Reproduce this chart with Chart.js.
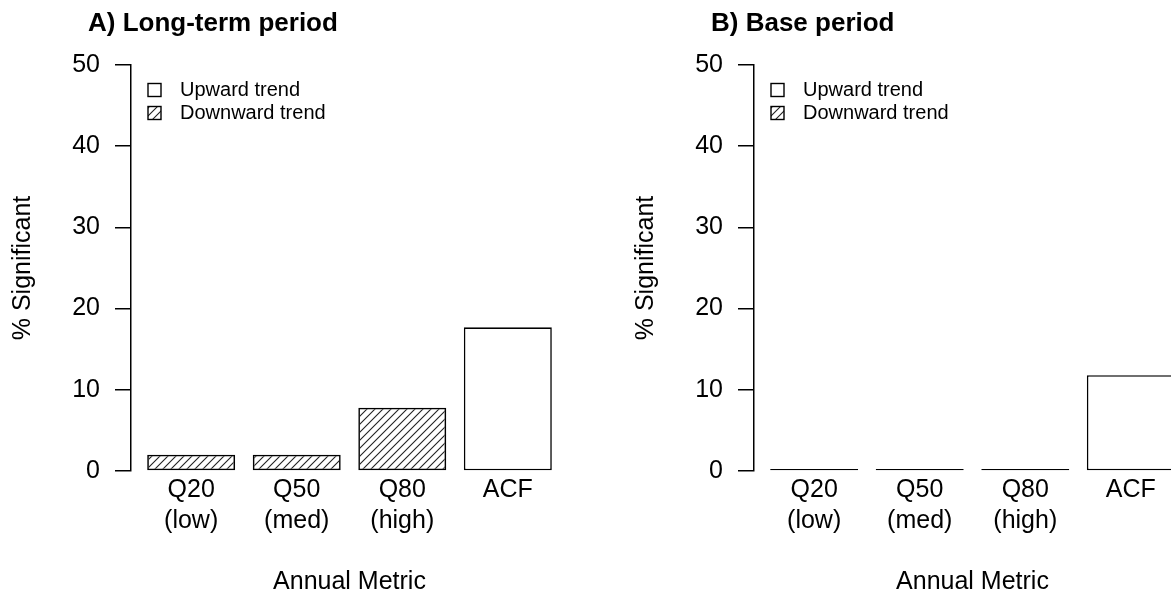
<!DOCTYPE html>
<html>
<head>
<meta charset="utf-8">
<script src="https://cdn.jsdelivr.net/npm/chart.js@4.4.1/dist/chart.umd.min.js"></script>
<style>
  html, body { margin: 0; padding: 0; background: #fff; overflow: hidden; }
  #wrap { position: relative; width: 1171px; height: 594px; overflow: hidden; }
  .panel { position: absolute; top: 0; width: 623px; height: 594px; }
</style>
</head>
<body>
<div id="wrap">
  <div class="panel" style="left:0"><canvas id="longTerm" width="623" height="594"></canvas></div>
  <div class="panel" style="left:623px"><canvas id="basePeriod" width="623" height="594"></canvas></div>
</div>
<script>
// categories (two-line tick labels)
const metrics = [["Q20", "(low)"], ["Q50", "(med)"], ["Q80", "(high)"], ["ACF"]];
const seriesNames = ["Upward trend", "Downward trend"];

// % significant
const longUp = [null, null, null, 17.7];
const longDown = [2.0, 2.0, 7.8, null];
const baseUp = [null, null, null, 11.8];
const baseDown = [0, 0, 0, null];

const yMin = 0, yMax = 50, yStep = 10;

Chart.defaults.font.family = '"Liberation Sans", Arial, sans-serif';
Chart.defaults.color = "#000";

function makeHatch(ctx) {
  const c = document.createElement("canvas");
  c.width = 8; c.height = 8;
  const g = c.getContext("2d");
  g.strokeStyle = "#222";
  g.lineWidth = 1.1;
  g.beginPath();
  g.moveTo(0, 8); g.lineTo(8, 0);
  g.moveTo(-2, 2); g.lineTo(2, -2);
  g.moveTo(6, 10); g.lineTo(10, 6);
  g.stroke();
  return ctx.createPattern(c, "repeat");
}

// panel title and the little legend inside the plot, R style
const panelText = {
  id: "panelText",
  afterDraw(chart, args, opts) {
    const { ctx, chartArea } = chart;
    ctx.save();
    ctx.fillStyle = "#000";
    ctx.textAlign = "left";
    ctx.textBaseline = "alphabetic";
    ctx.font = 'bold 26px "Liberation Sans", Arial, sans-serif';
    ctx.fillText(opts.title, chartArea.left - 43, 31);

    ctx.font = '20px "Liberation Sans", Arial, sans-serif';
    ctx.textBaseline = "middle";
    chart.data.datasets.forEach((ds, i) => {
      const bx = chartArea.left + 17;
      const cy = chartArea.top + 25 + i * 23;
      ctx.fillStyle = ds.backgroundColor;
      ctx.fillRect(bx, cy - 6.5, 13, 13);
      ctx.strokeStyle = "#000";
      ctx.lineWidth = 1.4;
      ctx.strokeRect(bx, cy - 6.5, 13, 13);
      ctx.fillStyle = "#000";
      ctx.fillText(ds.label, bx + 32, cy);
    });
    ctx.restore();
  }
};

function toPoints(arr) {
  return arr.map((v, i) => ({ x: i, y: v }));
}

function makePanel(id, title, up, down) {
  const ctx = document.getElementById(id).getContext("2d");
  const hatch = makeHatch(ctx);
  return new Chart(ctx, {
    type: "bar",
    data: {
      datasets: [
        {
          label: seriesNames[0],
          data: toPoints(up),
          backgroundColor: "#fff",
          borderColor: "#000",
          borderWidth: 1.6,
          borderSkipped: false,
          minBarLength: 2
        },
        {
          label: seriesNames[1],
          data: toPoints(down),
          backgroundColor: hatch,
          borderColor: "#000",
          borderWidth: 1.6,
          borderSkipped: false,
          minBarLength: 2
        }
      ]
    },
    options: {
      responsive: false,
      animation: false,
      categoryPercentage: 1 / 1.2,
      barPercentage: 1,
      layout: { padding: { top: 65, right: 55, left: 0, bottom: 0 } },
      plugins: {
        legend: { display: false },
        title: { display: false },
        tooltip: { enabled: false },
        panelText: { title: title }
      },
      scales: {
        x: {
          type: "linear",
          stacked: true,
          offset: false,
          min: -0.57,
          max: 3.57,
          grid: { display: false },
          border: { display: false },
          ticks: {
            stepSize: 1,
            includeBounds: false,
            autoSkip: false,
            maxRotation: 0,
            padding: -5,
            font: { size: 25, lineHeight: 1.25 },
            callback: (v) => (Number.isInteger(v) && metrics[v]) ? metrics[v] : ""
          },
          title: {
            display: true,
            text: "Annual Metric",
            font: { size: 25 },
            padding: { top: 0, bottom: -3 }
          },
          afterFit: (scale) => { scale.height = 123; }
        },
        y: {
          stacked: true,
          min: yMin,
          max: yMax,
          grid: {
            drawOnChartArea: false,
            drawTicks: true,
            tickLength: 16,
            color: "#000",
            lineWidth: 1.5
          },
          border: { display: true, color: "#000", width: 1.5 },
          ticks: {
            stepSize: yStep,
            padding: 15,
            font: { size: 25 }
          },
          title: {
            display: true,
            text: "% Significant",
            font: { size: 25 },
            padding: { top: 8, bottom: 0 }
          },
          afterFit: (scale) => { scale.width = 131; }
        }
      }
    },
    plugins: [panelText]
  });
}

makePanel("longTerm", "A) Long-term period", longUp, longDown);
makePanel("basePeriod", "B) Base period", baseUp, baseDown);
</script>
</body>
</html>
